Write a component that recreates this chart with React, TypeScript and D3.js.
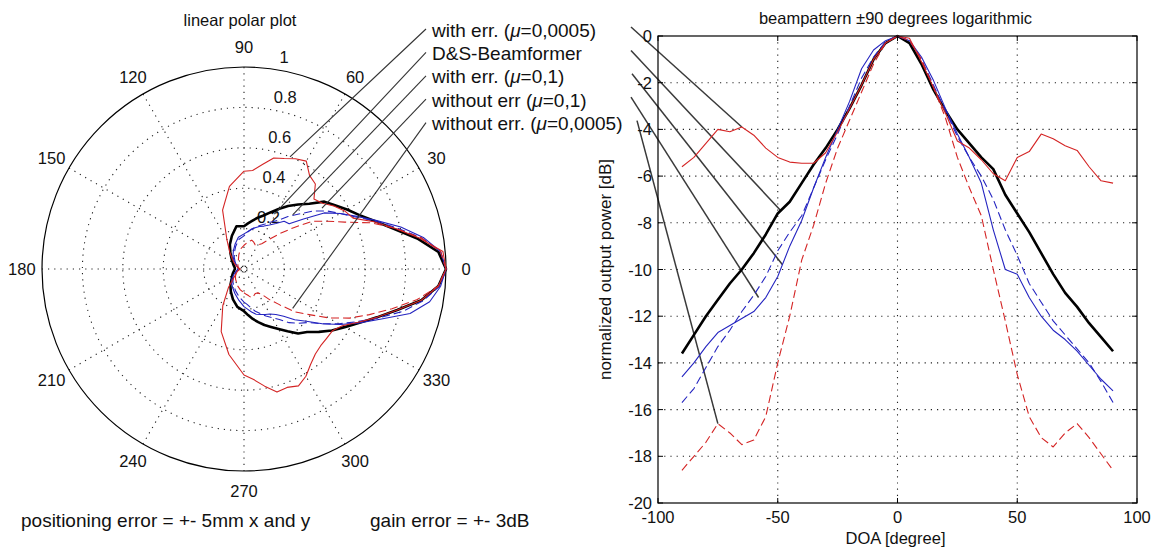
import React from 'react';
import * as d3 from 'd3';

// ---------------- DATA ----------------
// DOA grid (degrees) for the logarithmic beampattern
const doa = [-90, -85, -80, -75, -70, -65, -60, -55, -50, -45, -40, -35, -30, -25, -20, -15, -10, -5, 0,
  5, 10, 15, 20, 25, 30, 35, 40, 45, 50, 55, 60, 65, 70, 75, 80, 85, 90];

// normalized output power [dB]
const dsBeamformer = [-13.6, -12.8, -12.0, -11.3, -10.6, -10.0, -9.3, -8.5, -7.6, -7.1, -6.3, -5.5, -4.8, -4.0, -3.1, -2.1, -1.0, -0.3, 0,
  -0.3, -1.2, -2.3, -3.2, -4.0, -4.6, -5.2, -5.7, -6.8, -7.6, -8.4, -9.3, -10.2, -11.0, -11.6, -12.3, -12.9, -13.5];
const withErrMu0005 = [-5.6, -5.2, -4.6, -4.0, -4.1, -3.9, -4.25, -4.8, -5.2, -5.4, -5.45, -5.45, -5.0, -4.1, -3.1, -2.1, -1.0, -0.3, 0,
  -0.1, -1.1, -2.2, -3.3, -4.5, -4.8, -5.3, -5.9, -6.2, -5.2, -4.95, -4.2, -4.4, -4.7, -4.9, -5.6, -6.2, -6.3];
const withErrMu01 = [-14.6, -14.0, -13.3, -12.7, -12.4, -12.1, -11.8, -11.2, -10.3, -9.0, -7.9, -6.5, -5.2, -4.0, -2.8, -1.4, -0.6, -0.2, 0,
  -0.2, -0.9, -1.9, -3.1, -4.2, -5.2, -6.3, -8.3, -10.0, -10.2, -11.2, -12.0, -12.6, -13.0, -13.5, -14.1, -14.7, -15.2];
const withoutErrMu01 = [-15.7, -15.1, -14.2, -13.3, -12.6, -11.8, -11.1, -10.3, -9.2, -8.4, -7.7, -6.5, -5.3, -4.2, -3.0, -1.8, -0.9, -0.25, 0,
  -0.2, -1.0, -2.1, -3.2, -4.3, -5.2, -6.0, -7.0, -8.3, -9.4, -10.6, -11.4, -12.2, -12.8, -13.4, -14.0, -14.8, -15.7];
const withoutErrMu0005 = [-18.6, -18.0, -17.4, -16.6, -17.0, -17.5, -17.3, -16.3, -14.0, -12.0, -9.6, -8.1, -6.3, -4.8, -3.6, -2.4, -1.2, -0.3, 0,
  -0.2, -1.0, -2.2, -3.5, -5.2, -6.5, -7.7, -10.0, -12.2, -14.5, -16.3, -17.2, -17.6, -17.0, -16.6, -17.2, -17.9, -18.6];

// back half of the linear polar plot (angles 100..260 deg), linear amplitude
const backAngles = [100, 110, 120, 130, 140, 150, 160, 170, 180, 190, 200, 210, 220, 230, 240, 250, 260];
const dsBack = [0.215, 0.175, 0.14, 0.105, 0.08, 0.065, 0.055, 0.047, 0.045, 0.05, 0.058, 0.068, 0.08, 0.105, 0.13, 0.16, 0.19];
const withErrMu0005Back = [0.415, 0.31, 0.17, 0.11, 0.075, 0.055, 0.04, 0.03, 0.02, 0.025, 0.035, 0.045, 0.065, 0.12, 0.21, 0.33, 0.43];
const withErrMu01Back = [0.16, 0.13, 0.105, 0.085, 0.065, 0.045, 0.035, 0.03, 0.03, 0.035, 0.045, 0.06, 0.08, 0.095, 0.11, 0.13, 0.155];
const withoutErrMu01Back = [0.148, 0.12, 0.095, 0.075, 0.058, 0.045, 0.035, 0.03, 0.028, 0.032, 0.042, 0.055, 0.07, 0.085, 0.1, 0.118, 0.14];
const withoutErrMu0005Back = [0.1, 0.075, 0.055, 0.045, 0.04, 0.035, 0.03, 0.025, 0.02, 0.025, 0.035, 0.045, 0.055, 0.065, 0.075, 0.09, 0.105];

// legend labels (text before μ, text after μ)
const legendPre = ['with err. (', 'D&S-Beamformer', 'with err. (', 'without err (', 'without err. ('];
const legendPost = ['=0,0005)', '', '=0,1)', '=0,1)', '=0,0005)'];
// which curve each label points to (data units)
const polarPointerAngle = [67.7, 61, 48, 38, -39];
const polarPointerR = [0.60, 0.31, 0.36, 0.49, 0.31];
const rectPointerDoa = [-65, -49, -48, -58, -75];
const rectPointerDb = [-3.9, -7.45, -9.8, -11.2, -16.6];

// ticks
const rectXTicks = [-100, -50, 0, 50, 100];
const rectYTicks = [0, -2, -4, -6, -8, -10, -12, -14, -16, -18, -20];
const polarRings = [0.2, 0.4, 0.6, 0.8, 1];
const polarRingLabels = ['0.2', '0.4', '0.6', '0.8', '1'];
const polarSpokes = [0, 30, 60, 90, 120, 150];
const polarAngleLabels = [0, 30, 60, 90, 120, 150, 180, 210, 240, 270, 300, 330];

// ---------------- STYLE ----------------
const FONT = "'Liberation Sans', Arial, Helvetica, sans-serif";
const RED = '#d42424';
const BLUE = '#2424c0';
const series = [
  { db: dsBeamformer, back: dsBack, color: '#000', width: 2.6, dash: null },
  { db: withErrMu01, back: withErrMu01Back, color: BLUE, width: 1.1, dash: null },
  { db: withoutErrMu01, back: withoutErrMu01Back, color: BLUE, width: 1.1, dash: '8,4' },
  { db: withoutErrMu0005, back: withoutErrMu0005Back, color: RED, width: 1.1, dash: '8,4' },
  { db: withErrMu0005, back: withErrMu0005Back, color: RED, width: 1.1, dash: null },
];

// ---------------- LAYOUT ----------------
const W = 1158, H = 551;
const PCX = 244, PCY = 269, PR = 202;
const RX0 = 658, RX1 = 1137, RY0 = 36, RY1 = 503;

export default function App() {
  const rScale = d3.scaleLinear().domain([0, 1]).range([0, PR]);
  const xScale = d3.scaleLinear().domain([-100, 100]).range([RX0, RX1]);
  const yScale = d3.scaleLinear().domain([-20, 0]).range([RY1, RY0]);
  const rad = (deg: number) => (deg * Math.PI) / 180;
  const px = (a: number, r: number) => PCX + rScale(r) * Math.cos(rad(a));
  const py = (a: number, r: number) => PCY - rScale(r) * Math.sin(rad(a));

  const radial = d3.lineRadial<[number, number]>()
    .angle((d) => rad(90 - d[0]))
    .radius((d) => rScale(d[1]))
    .curve(d3.curveLinearClosed);

  const rectLine = d3.line<[number, number]>()
    .x((d) => xScale(d[0]))
    .y((d) => yScale(d[1]));

  const polarPts = (s: typeof series[number]) => {
    const front: [number, number][] = doa.map((a, i) => [a, Math.pow(10, s.db[i] / 20)]);
    const back: [number, number][] = backAngles.map((a, i) => [a, s.back[i]]);
    return front.concat(back);
  };

  const rowY = legendPre.map((_, i) => 30 + i * 23.4);
  const rightStartX = [631, 631, 632, 631, 637];

  const dotted = { stroke: '#222', strokeWidth: 1.1, strokeDasharray: '1.2,5', fill: 'none' };

  return (
    <div style={{ position: 'absolute', left: 0, top: 0 }}>
      <svg width={W} height={H} style={{ display: 'block', background: '#fff' }} fontFamily={FONT}>
        {/* ---------- POLAR PLOT ---------- */}
        <g>
          {polarRings.slice(0, -1).map((r) => (
            <circle key={r} cx={PCX} cy={PCY} r={rScale(r)} {...dotted} />
          ))}
          {polarSpokes.map((a) => (
            <line key={a} x1={px(a, 1)} y1={py(a, 1)} x2={px(a + 180, 1)} y2={py(a + 180, 1)} {...dotted} />
          ))}
          <circle cx={PCX} cy={PCY} r={rScale(1)} fill="none" stroke="#000" strokeWidth={1.2} />
          {polarAngleLabels.map((a) => (
            <text key={a} x={px(a, 1.1)} y={py(a, 1.1)} textAnchor="middle" dominantBaseline="central"
              fontSize={16.5} fill="#111">{a}</text>
          ))}
          {polarRings.map((r, i) => (
            <text key={r} x={px(82, r + 0.01) + 7} y={py(82, r + 0.01) - 4} fontSize={16.5} fill="#111">
              {polarRingLabels[i]}
            </text>
          ))}
          <g transform={`translate(${PCX},${PCY})`}>
            {series.map((s, i) => (
              <path key={i} d={radial(polarPts(s)) || ''} fill="none" stroke={s.color} strokeWidth={s.width}
                strokeDasharray={s.dash || undefined} strokeLinejoin="round" />
            ))}
          </g>
          <text x={240} y={26} textAnchor="middle" fontSize={16.5} fill="#111">linear polar plot</text>
        </g>

        {/* ---------- LEGEND + POINTERS ---------- */}
        {legendPre.map((pre, i) => (
          <g key={i}>
            <text x={432} y={rowY[i] + 6.5} fontSize={19} fill="#111">
              {pre}
              {legendPost[i] ? <tspan fontStyle="italic">μ</tspan> : null}
              {legendPost[i]}
            </text>
            <line x1={426} y1={rowY[i] - 1} x2={px(polarPointerAngle[i], polarPointerR[i])}
              y2={py(polarPointerAngle[i], polarPointerR[i])} stroke="#333" strokeWidth={1.1} />
            <line x1={rightStartX[i]} y1={rowY[i] - 3} x2={xScale(rectPointerDoa[i])}
              y2={yScale(rectPointerDb[i])} stroke="#3a3a3a" strokeWidth={1.5} />
          </g>
        ))}

        {/* ---------- RECTANGULAR PLOT ---------- */}
        <g>
          {rectXTicks.slice(1, -1).map((t) => (
            <line key={t} x1={xScale(t)} x2={xScale(t)} y1={RY0} y2={RY1} {...dotted} />
          ))}
          {rectYTicks.slice(1, -1).map((t) => (
            <line key={t} x1={RX0} x2={RX1} y1={yScale(t)} y2={yScale(t)} {...dotted} />
          ))}
          {series.map((s, i) => (
            <path key={i} d={rectLine(doa.map((a, j) => [a, s.db[j]] as [number, number])) || ''} fill="none"
              stroke={s.color} strokeWidth={s.width} strokeDasharray={s.dash || undefined} strokeLinejoin="round" />
          ))}
          <rect x={RX0} y={RY0} width={RX1 - RX0} height={RY1 - RY0} fill="none" stroke="#000" strokeWidth={1.2} />
          {rectXTicks.map((t) => (
            <g key={t}>
              <line x1={xScale(t)} x2={xScale(t)} y1={RY1} y2={RY1 - 5} stroke="#000" />
              <line x1={xScale(t)} x2={xScale(t)} y1={RY0} y2={RY0 + 5} stroke="#000" />
              <text x={xScale(t)} y={RY1 + 20} textAnchor="middle" fontSize={16.5} fill="#111">{t}</text>
            </g>
          ))}
          {rectYTicks.map((t) => (
            <g key={t}>
              <line x1={RX0} x2={RX0 + 5} y1={yScale(t)} y2={yScale(t)} stroke="#000" />
              <line x1={RX1} x2={RX1 - 5} y1={yScale(t)} y2={yScale(t)} stroke="#000" />
              <text x={RX0 - 6} y={yScale(t)} textAnchor="end" dominantBaseline="central" fontSize={16.5} fill="#111">{t}</text>
            </g>
          ))}
          <text x={(RX0 + RX1) / 2 - 2} y={24} textAnchor="middle" fontSize={16.5} fill="#111">
            beampattern ±90 degrees logarithmic
          </text>
          <text x={(RX0 + RX1) / 2 - 2} y={544} textAnchor="middle" fontSize={16.5} fill="#111">DOA [degree]</text>
          <text transform={`translate(611,${(RY0 + RY1) / 2}) rotate(-90)`} textAnchor="middle" fontSize={17}
            fill="#111">normalized output power [dB]</text>
        </g>

        {/* ---------- FOOTNOTES ---------- */}
        <text x={21} y={527} fontSize={19} fill="#111">positioning error = +- 5mm x and y</text>
        <text x={370} y={527} fontSize={19} fill="#111">gain error = +- 3dB</text>
      </svg>
    </div>
  );
}
